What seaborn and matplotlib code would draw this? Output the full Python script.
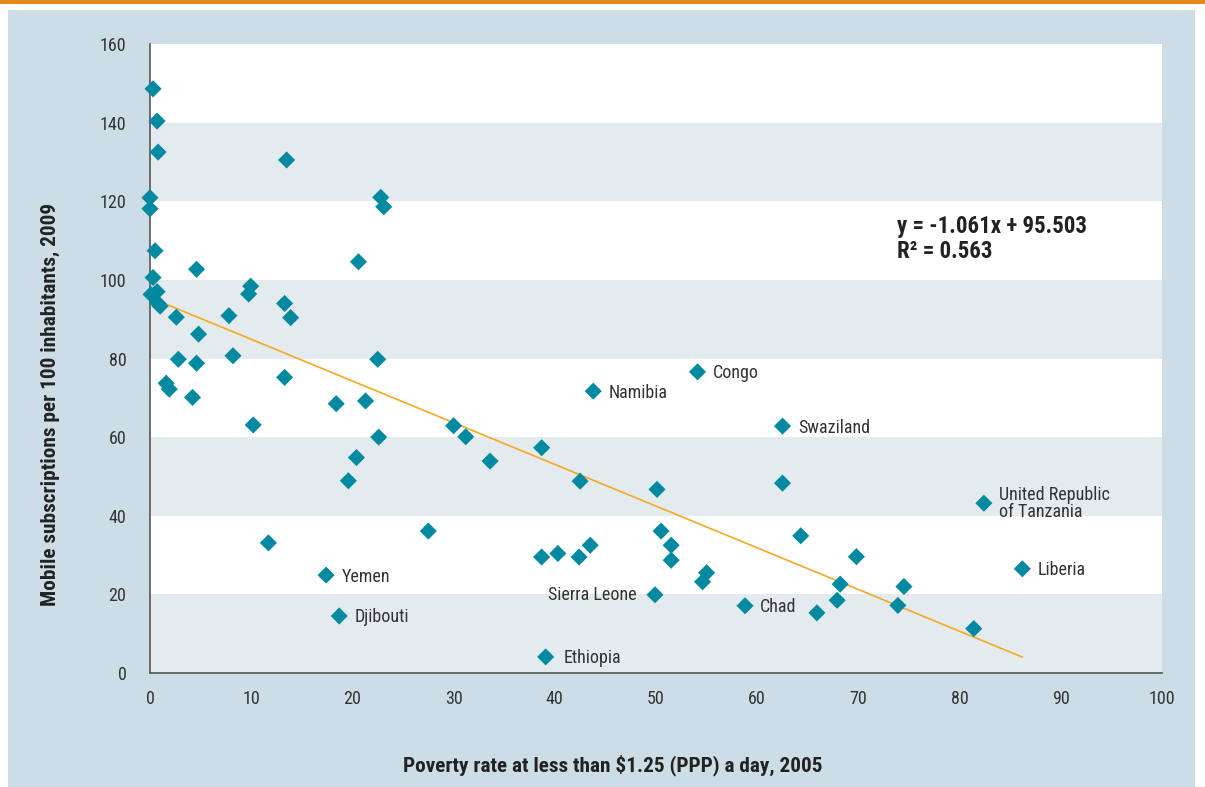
import numpy as np
import pandas as pd
import matplotlib
matplotlib.use("Agg")
import matplotlib.pyplot as plt
import seaborn as sns
from matplotlib.patches import Rectangle
from matplotlib import font_manager as fm

# ---------------- data ----------------
# unlabeled countries
poverty = [0.3, 0.7, 0.8, 0.0, 0.0, 0.5, 0.3, 0.7, 0.1, 0.8, 1.0,
           4.6, 2.6, 4.8, 2.8, 4.6, 1.6, 1.9, 4.2, 7.8, 8.2, 10.2,
           9.95, 9.75, 13.3, 13.9, 13.3, 13.5, 22.8, 23.1, 20.6, 22.5,
           18.4, 21.3, 22.6, 20.4, 19.6, 11.7, 27.5, 30.0, 31.2, 33.6,
           38.7, 42.5, 50.1, 38.7, 40.3, 42.4, 43.5, 50.5, 51.5, 51.5,
           55.0, 54.6, 62.5, 64.3, 69.8, 65.9, 67.9, 68.2, 74.5, 73.9, 81.4]
mobile = [148.6, 140.4, 132.5, 120.9, 118.1, 107.4, 100.6, 97.0, 96.3, 94.0, 93.3,
          102.7, 90.5, 86.2, 79.8, 78.8, 73.7, 72.2, 70.1, 90.9, 80.7, 63.1,
          98.4, 96.4, 94.0, 90.4, 75.2, 130.5, 121.0, 118.6, 104.6, 79.8,
          68.5, 69.2, 60.0, 54.8, 48.9, 33.1, 36.1, 62.9, 60.1, 53.9,
          57.3, 48.8, 46.7, 29.5, 30.4, 29.5, 32.5, 36.1, 32.5, 28.7,
          25.5, 23.2, 48.3, 34.9, 29.6, 15.3, 18.5, 22.6, 22.0, 17.2, 11.3]

# labeled countries
label_names = ["Namibia", "Congo", "Swaziland", "United Republic\nof Tanzania",
               "Liberia", "Yemen", "Djibouti", "Sierra Leone", "Chad", "Ethiopia"]
label_poverty = [43.8, 54.1, 62.5, 82.4, 86.2, 17.4, 18.7, 49.9, 58.8, 39.1]
label_mobile = [71.7, 76.6, 62.8, 43.2, 26.5, 24.9, 14.5, 19.9, 17.1, 4.1]

# trend line reported in the chart
slope, intercept = -1.061, 95.503
r_squared = 0.563

x_ticks = list(range(0, 101, 10))
y_ticks = list(range(0, 161, 20))
x_label = "Poverty rate at less than $1.25 (PPP) a day, 2005"
y_label = "Mobile subscriptions per 100 inhabitants, 2009"

# ---------------- style ----------------
TEAL = "#008aa1"
ORANGE = "#f7a823"
BAND = "#e3ebef"
FRAME = "#cddde5"
TXT = "#333333"

sns.set_style("white")
names = {f.name for f in fm.fontManager.ttflist}
narrow = [n for n in ["Liberation Sans Narrow", "Arial Narrow", "Roboto Condensed",
                      "Open Sans Condensed"] if n in names]
plt.rcParams["font.family"] = narrow + ["DejaVu Sans"]
plt.rcParams["font.stretch"] = "condensed"

df = pd.DataFrame({
    "poverty": poverty + label_poverty,
    "mobile": mobile + label_mobile,
})

W, H = 1205, 787
fig = plt.figure(figsize=(W / 100, H / 100), dpi=100)
fig.patch.set_facecolor("white")
fig.patches.append(Rectangle((8 / W, 0), (1195 - 8) / W, (H - 10) / H,
                             transform=fig.transFigure, facecolor=FRAME,
                             edgecolor="none", zorder=-10))
fig.patches.append(Rectangle((0, (H - 4) / H), 1, 4 / H,
                             transform=fig.transFigure, facecolor="#e8891e",
                             edgecolor="none", zorder=-10))

ax = fig.add_axes([150 / W, (H - 673) / H, (1162 - 150) / W, (673 - 44) / H])
ax.set_facecolor("white")

for lo in range(0, 160, 40):
    ax.axhspan(lo, lo + 20, color=BAND, lw=0, zorder=0)

xs = np.array([min(df["poverty"]), max(df["poverty"])])
ax.plot(xs, slope * xs + intercept, color=ORANGE, lw=1.2, zorder=2)

sns.scatterplot(data=df, x="poverty", y="mobile", ax=ax, marker="D", s=76,
                color=TEAL, edgecolor="none", linewidth=0, zorder=3,
                clip_on=False, legend=False)

offsets = {"Sierra Leone": (-13, 0), "Ethiopia": (13, -1),
           "United Republic\nof Tanzania": (11, 0)}
for name, px, py in zip(label_names, label_poverty, label_mobile):
    dx, dy = offsets.get(name, (11, -1))
    ax.annotate(name, (px, py), xytext=(dx, dy), textcoords="offset points",
                ha="right" if dx < 0 else "left", va="center",
                fontsize=13, color=TXT, linespacing=0.95, zorder=4)

ax.text((897 - 150) / 1012, (673 - 226) / 629,
        f"y = {slope:.3f}x + {intercept:.3f}", transform=ax.transAxes,
        fontsize=16.5, fontweight="bold", color="#222222", va="center", ha="left")
ax.text((897 - 150) / 1012, (673 - 251) / 629,
        f"R\u00b2 = {r_squared:.3f}", transform=ax.transAxes,
        fontsize=16.5, fontweight="bold", color="#222222", va="center", ha="left")

ax.set_xlim(0, 100)
ax.set_ylim(0, 160)
ax.set_xticks(x_ticks)
ax.set_yticks(y_ticks)
ax.tick_params(axis="both", direction="in", length=6, width=1, color="#555555",
               labelsize=13, labelcolor=TXT)
ax.tick_params(axis="y", pad=17)
ax.tick_params(axis="x", pad=12)
for s in ["top", "right"]:
    ax.spines[s].set_visible(False)
for s in ["left", "bottom"]:
    ax.spines[s].set_color("#555555")
    ax.spines[s].set_linewidth(1.2)
ax.set_xlabel("")
ax.set_ylabel("")

fig.text(613 / W, (H - 765) / H, x_label, ha="center", va="center",
         fontsize=15.3, fontweight="bold", color="#222222")
fig.text(50 / W, (H - 404) / H, y_label, ha="center", va="center", rotation=90,
         fontsize=15.3, fontweight="bold", color="#222222")

fig.savefig("out.png", dpi=100)
